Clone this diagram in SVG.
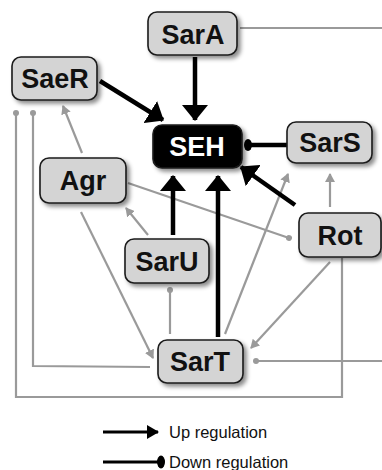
<svg xmlns="http://www.w3.org/2000/svg" width="382" height="470" viewBox="0 0 382 470">
<defs>
<style>
.node rect{fill:#d4d4d4;stroke:#1a1a1a;stroke-width:1.6;filter:url(#sh)}
.node text{font-family:"Liberation Sans",Arial,sans-serif;font-weight:bold;font-size:27px;fill:#111;text-anchor:middle}
#SEH rect{fill:#000}
#SEH text{fill:#fff}
.up{stroke:#000;stroke-width:4.5;fill:none;marker-end:url(#ah)}
.down{stroke:#000;stroke-width:4.5;fill:none}
.g{stroke:#9a9a9a;stroke-width:2.2;fill:none}
.ga{marker-end:url(#gah)}
.gd{marker-end:url(#gdot)}
.leg{font-family:"Liberation Sans",Arial,sans-serif;font-size:16.5px;fill:#111}
</style>
<filter id="sh" x="-20%" y="-20%" width="150%" height="160%">
<feDropShadow dx="3" dy="3" stdDeviation="2" flood-color="#000" flood-opacity="0.45"/>
</filter>
<marker id="ah" markerUnits="userSpaceOnUse" viewBox="0 0 16 26" refX="15" refY="13" markerWidth="16" markerHeight="26" orient="auto">
<path d="M0,0 L16,13 L0,26 z" fill="#000"/>
</marker>
<marker id="ahs" markerUnits="userSpaceOnUse" viewBox="0 0 12 14" refX="11" refY="7" markerWidth="12" markerHeight="14" orient="auto">
<path d="M0,0 L12,7 L0,14 z" fill="#000"/>
</marker>
<marker id="gah" markerUnits="userSpaceOnUse" viewBox="0 0 9 10" refX="8" refY="5" markerWidth="9" markerHeight="10" orient="auto">
<path d="M0,0 L9,5 L0,10 z" fill="#9a9a9a"/>
</marker>
<marker id="gdot" markerUnits="userSpaceOnUse" viewBox="0 0 8 8" refX="4" refY="4" markerWidth="8" markerHeight="8" orient="auto">
<circle cx="4" cy="4" r="3" fill="#9a9a9a"/>
</marker>
</defs>
<rect width="382" height="470" fill="#fff"/>
<g id="connectors">
<line class="g" x1="240" y1="28" x2="382" y2="28"/>
<polyline class="g gd" points="342,258 342,397 16,397 16,113"/>
<polyline class="g gd" points="150,367 33,366 33,113"/>
<line class="g ga" x1="82" y1="153" x2="63" y2="106"/>
<line class="g gd" x1="128" y1="183" x2="289" y2="238"/>
<line class="g ga" x1="148" y1="235" x2="126" y2="208"/>
<line class="g ga" x1="81" y1="212" x2="153" y2="358"/>
<line class="g gd" x1="170" y1="334" x2="170" y2="290"/>
<line class="g ga" x1="225" y1="334" x2="288" y2="174"/>
<line class="g ga" x1="330" y1="207" x2="330" y2="174"/>
<line class="g ga" x1="330" y1="262" x2="251" y2="348"/>
<line class="g gd" x1="382" y1="361" x2="256" y2="361"/>
<line class="up" x1="195" y1="57" x2="195" y2="120"/>
<line class="up" x1="100" y1="81" x2="163" y2="120"/>
<line class="up" x1="295" y1="205" x2="241" y2="167"/>
<line class="up" x1="173" y1="235" x2="173" y2="176"/>
<line class="up" x1="218" y1="337" x2="218" y2="176"/>
<line class="down" x1="287" y1="145" x2="249" y2="145"/>
<ellipse cx="248" cy="145" rx="4" ry="6" fill="#000"/>
</g>
<g id="SarA" class="node"><rect x="148" y="12" width="89" height="43" rx="9"/><text x="193" y="44">SarA</text></g>
<g id="SaeR" class="node"><rect x="12" y="57" width="85" height="43" rx="9"/><text x="55" y="88">SaeR</text></g>
<g id="SEH" class="node"><rect x="153" y="125" width="89" height="43" rx="9"/><text x="197" y="156">SEH</text></g>
<g id="SarS" class="node"><rect x="287" y="122" width="85" height="41" rx="9"/><text x="330" y="152">SarS</text></g>
<g id="Agr" class="node"><rect x="40" y="158" width="86" height="45" rx="9"/><text x="83" y="190">Agr</text></g>
<g id="Rot" class="node"><rect x="299" y="213" width="82" height="44" rx="9"/><text x="340" y="245">Rot</text></g>
<g id="SarU" class="node"><rect x="125" y="239" width="84" height="44" rx="9"/><text x="167" y="271">SarU</text></g>
<g id="SarT" class="node"><rect x="158" y="340" width="85" height="43" rx="9"/><text x="200" y="371">SarT</text></g>
<g id="legend">
<line x1="103" y1="432" x2="158" y2="432" stroke="#000" stroke-width="3" marker-end="url(#ahs)"/>
<text class="leg" x="169" y="438">Up regulation</text>
<line x1="103" y1="462" x2="160" y2="462" stroke="#000" stroke-width="3"/>
<ellipse cx="161" cy="462" rx="4" ry="6.5" fill="#000"/>
<text class="leg" x="169" y="468">Down regulation</text>
</g>
</svg>
